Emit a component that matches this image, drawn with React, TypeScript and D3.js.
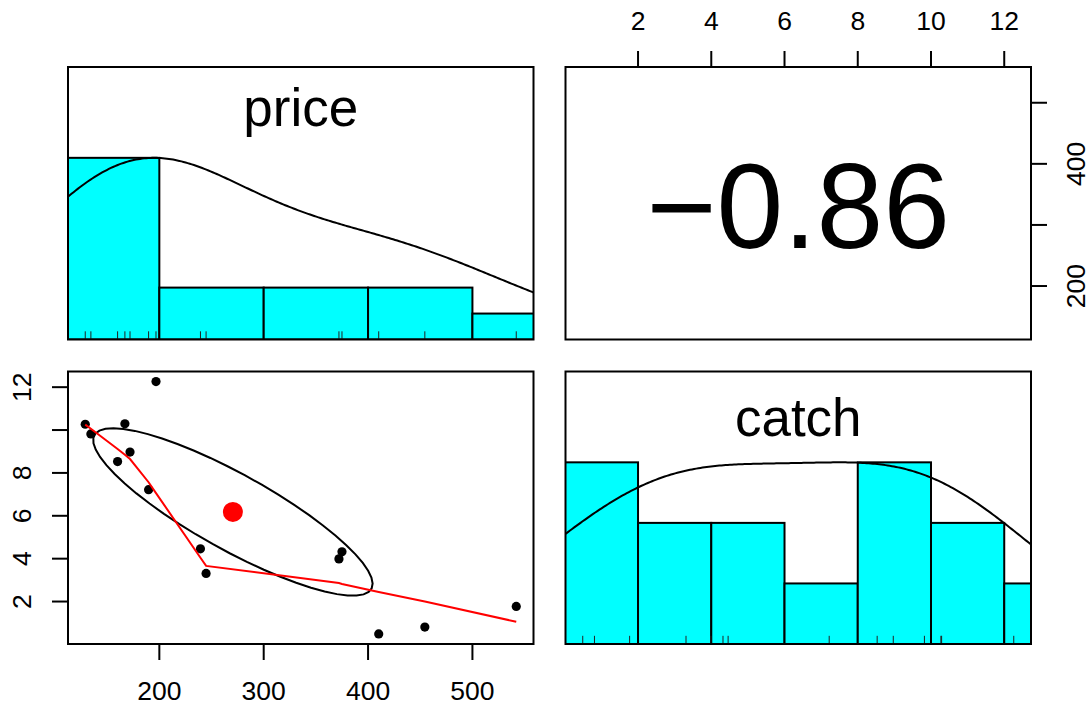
import React from 'react';
import * as d3 from 'd3';

const price = [129, 134.4, 167, 196.8, 171.9, 160, 189.7, 239.4, 244.8, 375, 372.1, 410.2, 454.4, 542];
const catchVals = [10.27, 9.82, 10.29, 12.26, 8.97, 8.53, 7.22, 4.46, 3.31, 4.32, 3.99, 0.49, 0.81, 1.77];
const varNames = ['price', 'catch'];

const priceBreaks = [100, 200, 300, 400, 500, 600];
const catchBreaks = [0, 2, 4, 6, 8, 10, 12, 14];

const priceTicks = [200, 300, 400, 500];
const catchTicks = [2, 4, 6, 8, 10, 12];
const priceBottomLabels = [200, 300, 400, 500];
const priceRightLabels = [200, 400];
const catchTopLabels = [2, 4, 6, 8, 10, 12];
const catchLeftLabels = [2, 4, 6, 8, 12];

const W = 1091;
const H = 707;
const left = 68;
const top = 67;
const pw = 465.5;
const ph = 272.5;
const gap = 32;
const FONT = 'Liberation Sans, Arial, Helvetica, sans-serif';
const axisFs = 26.5;
const HIST = '#00FFFF';
const LW = 2;

const colX = (c: number) => left + c * (pw + gap);
const rowY = (r: number) => top + r * (ph + gap);

// R-style 4% extended range
function extRange(v: number[]): [number, number] {
  const [a, b] = d3.extent(v) as [number, number];
  const e = (b - a) * 0.04;
  return [a - e, b + e];
}

// right-closed histogram counts like R's hist()
function histCounts(v: number[], br: number[]) {
  return br.slice(0, -1).map((b0, i) => {
    const b1 = br[i + 1];
    return v.filter((d) => (i === 0 ? d >= b0 : d > b0) && d <= b1).length;
  });
}

// gaussian density, bw = nrd * 1.2, like density(x, bw="nrd", adjust=1.2)
function density(v: number[]) {
  const q1 = d3.quantile(v, 0.25) as number;
  const q3 = d3.quantile(v, 0.75) as number;
  const sd = d3.deviation(v) as number;
  const bw = 1.06 * Math.min(sd, (q3 - q1) / 1.34) * Math.pow(v.length, -0.2) * 1.2;
  const [a, b] = d3.extent(v) as [number, number];
  const lo = a - 3 * bw;
  const hi = b + 3 * bw;
  const pts: [number, number][] = [];
  for (let i = 0; i < 512; i++) {
    const x = lo + ((hi - lo) * i) / 511;
    const y = d3.sum(v, (d) => Math.exp(-0.5 * ((x - d) / bw) ** 2));
    pts.push([x, y]);
  }
  const m = d3.max(pts, (p) => p[1]) as number;
  return pts.map(([x, y]) => [x, y / m] as [number, number]);
}

// port of R's clowess
function lowess(xIn: number[], yIn: number[], f = 2 / 3, iter = 3) {
  const idx = xIn.map((_, i) => i).sort((a, b) => xIn[a] - xIn[b]);
  const x = idx.map((i) => xIn[i]);
  const y = idx.map((i) => yIn[i]);
  const n = x.length;
  const range = x[n - 1] - x[0];
  const delta = 0.01 * range;
  const ns = Math.max(2, Math.min(n, Math.floor(f * n + 1e-7)));
  const ys = new Array(n).fill(0);
  const rw = new Array(n).fill(1);
  const res = new Array(n).fill(0);
  const w = new Array(n).fill(0);

  const lowest = (xs: number, nleft: number, nright: number, userw: boolean): [number, boolean] => {
    const h = Math.max(xs - x[nleft], x[nright] - xs);
    const h9 = 0.999 * h;
    const h1 = 0.001 * h;
    let a = 0;
    let j = nleft;
    while (j < n) {
      w[j] = 0;
      const r = Math.abs(x[j] - xs);
      if (r <= h9) {
        w[j] = r <= h1 ? 1 : Math.pow(1 - Math.pow(r / h, 3), 3);
        if (userw) w[j] *= rw[j];
        a += w[j];
      } else if (x[j] > xs) break;
      j++;
    }
    const nrt = j - 1;
    if (a <= 0) return [0, false];
    for (j = nleft; j <= nrt; j++) w[j] /= a;
    if (h > 0) {
      a = 0;
      for (j = nleft; j <= nrt; j++) a += w[j] * x[j];
      let b = xs - a;
      let c = 0;
      for (j = nleft; j <= nrt; j++) c += w[j] * (x[j] - a) * (x[j] - a);
      if (Math.sqrt(c) > 0.001 * range) {
        b /= c;
        for (j = nleft; j <= nrt; j++) w[j] *= b * (x[j] - a) + 1;
      }
    }
    let s = 0;
    for (j = nleft; j <= nrt; j++) s += w[j] * y[j];
    return [s, true];
  };

  let it = 1;
  while (it <= iter + 1) {
    let nleft = 0;
    let nright = ns - 1;
    let last = -1;
    let i = 0;
    for (;;) {
      if (nright < n - 1) {
        const d1 = x[i] - x[nleft];
        const d2 = x[nright + 1] - x[i];
        if (d1 > d2) {
          nleft++;
          nright++;
          continue;
        }
      }
      const [v, ok] = lowest(x[i], nleft, nright, it > 1);
      ys[i] = ok ? v : y[i];
      if (last < i - 1) {
        const denom = x[i] - x[last];
        for (let j = last + 1; j < i; j++) {
          const alpha = (x[j] - x[last]) / denom;
          ys[j] = alpha * ys[i] + (1 - alpha) * ys[last];
        }
      }
      last = i;
      const cut = x[last] + delta;
      for (i = last + 1; i < n; i++) {
        if (x[i] > cut) break;
        if (x[i] === x[last]) {
          ys[i] = ys[last];
          last = i;
        }
      }
      i = Math.max(last + 1, i - 1);
      if (last >= n - 1) break;
    }
    for (let k = 0; k < n; k++) res[k] = y[k] - ys[k];
    const sc = d3.sum(res, (d) => Math.abs(d)) / n;
    if (it > iter) break;
    const cmad = 6 * (d3.median(res.map((d) => Math.abs(d))) as number);
    if (cmad < 1e-7 * sc) break;
    const c9 = 0.999 * cmad;
    const c1 = 0.001 * cmad;
    for (let k = 0; k < n; k++) {
      const r = Math.abs(res[k]);
      rw[k] = r <= c1 ? 1 : r <= c9 ? Math.pow(1 - (r / cmad) ** 2, 2) : 0;
    }
    it++;
  }
  return x.map((d, k) => [d, ys[k]] as [number, number]);
}

function pearson(a: number[], b: number[]) {
  const ma = d3.mean(a) as number;
  const mb = d3.mean(b) as number;
  let sab = 0, saa = 0, sbb = 0;
  a.forEach((d, i) => {
    sab += (d - ma) * (b[i] - mb);
    saa += (d - ma) ** 2;
    sbb += (b[i] - mb) ** 2;
  });
  return sab / Math.sqrt(saa * sbb);
}

// baseline shift so the ink box is centred (R's exact vertical centring)
function inkShift(txt: string, fs: number) {
  const asc = /[bdfhiklt0-9A-Z]/.test(txt) ? 0.716 : 0.519;
  const desc = /[gjpqy]/.test(txt) ? 0.21 : 0;
  return ((asc - desc) / 2) * fs;
}

function HistPanel({ values, breaks, x0, y0, name, id }: { values: number[]; breaks: number[]; x0: number; y0: number; name: string; id: string }) {
  const x = d3.scaleLinear().domain(extRange(values)).range([x0, x0 + pw]);
  const y = d3.scaleLinear().domain([0, 1.5]).range([y0 + ph, y0]);
  const counts = histCounts(values, breaks);
  const mx = d3.max(counts) as number;
  const dens = density(values);
  const line = d3.line<[number, number]>().x((d) => x(d[0])).y((d) => y(d[1]));
  const rugLen = 0.03 * ph;
  const fs = 53;
  return (
    <g>
      <defs>
        <clipPath id={id}>
          <rect x={x0} y={y0} width={pw} height={ph} />
        </clipPath>
      </defs>
      <g clipPath={`url(#${id})`}>
        {counts.map((c, i) => (
          <rect key={i} x={x(breaks[i])} y={y(c / mx)} width={x(breaks[i + 1]) - x(breaks[i])} height={y(0) - y(c / mx)} fill={HIST} stroke="#000" strokeWidth={LW} />
        ))}
        {values.map((v, i) => (
          <line key={i} x1={x(v)} x2={x(v)} y1={y(0)} y2={y(0) - rugLen} stroke="#222" strokeWidth={1} />
        ))}
        <path d={line(dens) || ''} fill="none" stroke="#000" strokeWidth={LW} />
      </g>
      <text x={x0 + pw / 2} y={y0 + ph * (1 - 0.8333) + inkShift(name, fs)} textAnchor="middle" fontSize={fs} fontFamily={FONT}>
        {name}
      </text>
    </g>
  );
}

export default function App() {
  const xP = d3.scaleLinear().domain(extRange(price)).range([colX(0), colX(0) + pw]);
  const yC = d3.scaleLinear().domain(extRange(catchVals)).range([rowY(1) + ph, rowY(1)]);
  const xC = d3.scaleLinear().domain(extRange(catchVals)).range([colX(1), colX(1) + pw]);
  const yP = d3.scaleLinear().domain(extRange(price)).range([rowY(0) + ph, rowY(0)]);

  const r = pearson(price, catchVals);
  const rTxt = r.toFixed(2).replace('-', '\u2212');
  const mP = d3.mean(price) as number;
  const mC = d3.mean(catchVals) as number;
  const sP = d3.deviation(price) as number;
  const sC = d3.deviation(catchVals) as number;

  // correlation ellipse as in psych::draw.ellipse
  const theta = (r !== 0 ? Math.sign(r) : 1) / Math.SQRT2;
  const ea = Math.sqrt(1 + r);
  const eb = Math.sqrt(1 - r);
  const ell = d3.range(52).map((k) => {
    const t = (k * 2 * Math.PI) / 51;
    const c = Math.cos(t);
    const s = Math.sin(t);
    return [theta * (ea * c - eb * s) * sP + mP, theta * (ea * c + eb * s) * sC + mC] as [number, number];
  });
  const smooth = lowess(price, catchVals);
  const lineXY = d3.line<[number, number]>().x((d) => xP(d[0])).y((d) => yC(d[1]));

  const tick = 16;
  const lblGap = 37.5;
  const digitH = 0.716 * axisFs;
  const bottomY = rowY(1) + ph;
  const rightX = colX(1) + pw;

  return (
    <svg width={W} height={H} style={{ position: 'fixed', left: 0, top: 0, background: '#fff' }} fontFamily={FONT}>
      <rect width={W} height={H} fill="#fff" />

      <HistPanel values={price} breaks={priceBreaks} x0={colX(0)} y0={rowY(0)} name={varNames[0]} id="clipP" />
      <HistPanel values={catchVals} breaks={catchBreaks} x0={colX(1)} y0={rowY(1)} name={varNames[1]} id="clipC" />

      {/* correlation */}
      <text x={colX(1) + pw / 2} y={rowY(0) + ph / 2 + inkShift('0', 120) + 1.5} textAnchor="middle" fontSize={120}>
        {rTxt}
      </text>

      {/* scatter */}
      <defs>
        <clipPath id="clipS">
          <rect x={colX(0)} y={rowY(1)} width={pw} height={ph} />
        </clipPath>
      </defs>
      <g clipPath="url(#clipS)">
        {price.map((p, i) => (
          <circle key={i} cx={xP(p)} cy={yC(catchVals[i])} r={4.6} fill="#000" />
        ))}
        <circle cx={xP(mP)} cy={yC(mC)} r={10} fill="#FF0000" />
        <path d={lineXY(ell) || ''} fill="none" stroke="#000" strokeWidth={LW} />
        <path d={lineXY(smooth) || ''} fill="none" stroke="#FF0000" strokeWidth={LW} />
      </g>

      {/* panel boxes */}
      {[0, 1].map((ri) =>
        [0, 1].map((ci) => (
          <rect key={`${ri}-${ci}`} x={colX(ci)} y={rowY(ri)} width={pw} height={ph} fill="none" stroke="#000" strokeWidth={LW} />
        ))
      )}

      {/* top axis: catch */}
      {catchTicks.map((t) => (
        <line key={`t${t}`} x1={xC(t)} x2={xC(t)} y1={rowY(0)} y2={rowY(0) - tick} stroke="#000" strokeWidth={LW} />
      ))}
      {catchTopLabels.map((t) => (
        <text key={`tl${t}`} x={xC(t)} y={rowY(0) - lblGap} textAnchor="middle" fontSize={axisFs}>
          {t}
        </text>
      ))}

      {/* bottom axis: price */}
      {priceTicks.map((t) => (
        <line key={`b${t}`} x1={xP(t)} x2={xP(t)} y1={bottomY} y2={bottomY + tick} stroke="#000" strokeWidth={LW} />
      ))}
      {priceBottomLabels.map((t) => (
        <text key={`bl${t}`} x={xP(t)} y={bottomY + lblGap + digitH} textAnchor="middle" fontSize={axisFs}>
          {t}
        </text>
      ))}

      {/* left axis: catch */}
      {catchTicks.map((t) => (
        <line key={`l${t}`} x1={colX(0)} x2={colX(0) - tick} y1={yC(t)} y2={yC(t)} stroke="#000" strokeWidth={LW} />
      ))}
      {catchLeftLabels.map((t) => (
        <text key={`ll${t}`} transform={`translate(${colX(0) - lblGap},${yC(t)}) rotate(-90)`} textAnchor="middle" fontSize={axisFs}>
          {t}
        </text>
      ))}

      {/* right axis: price */}
      {priceTicks.map((t) => (
        <line key={`r${t}`} x1={rightX} x2={rightX + tick} y1={yP(t)} y2={yP(t)} stroke="#000" strokeWidth={LW} />
      ))}
      {priceRightLabels.map((t) => (
        <text key={`rl${t}`} transform={`translate(${rightX + 54},${yP(t)}) rotate(-90)`} textAnchor="middle" fontSize={axisFs}>
          {t}
        </text>
      ))}
    </svg>
  );
}
